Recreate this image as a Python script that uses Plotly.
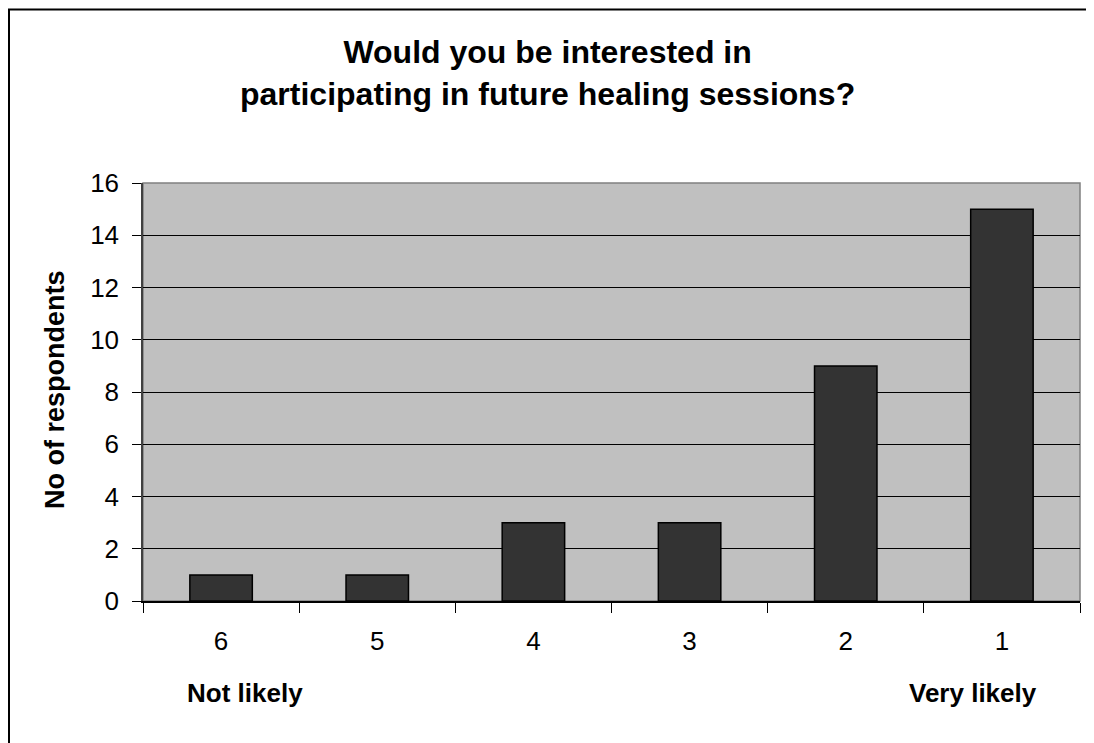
import plotly.graph_objects as go

categories = ["6", "5", "4", "3", "2", "1"]
respondents = [1, 1, 3, 3, 9, 15]
y_ticks = [0, 2, 4, 6, 8, 10, 12, 14, 16]

title_text = "Would you be interested in<br>participating in future healing sessions?"
y_title = "No of respondents"
low_label = "Not likely"
high_label = "Very likely"

FONT = "Liberation Sans, Arial, sans-serif"
OFF = 8  # page body margin
W, H = 1094 - OFF, 743 - OFF
# plot area in screen pixels: x 143..1080, y 183..601
L = 143 - OFF
T = 183 - OFF
R = W - (1080 - OFF)
B = H - (601 - OFF)
pw = W - L - R
ph = H - T - B

def px_x(sx):
    return (sx - OFF - L) / pw

def px_y(sy):
    return (H - B - (sy - OFF)) / ph

fig = go.Figure()
fig.add_trace(go.Bar(
    x=categories,
    y=respondents,
    marker=dict(color="#333333", line=dict(color="black", width=1.5)),
    width=0.4,
    hoverinfo="x+y",
))

fig.update_layout(
    width=W, height=H,
    margin=dict(l=L, r=R, t=T, b=B, autoexpand=False),
    paper_bgcolor="white",
    plot_bgcolor="#C0C0C0",
    font=dict(family=FONT, size=26, color="black"),
    showlegend=False,
    xaxis=dict(
        type="category",
        categoryorder="array", categoryarray=categories,
        showgrid=False,
        showline=True, linecolor="black", linewidth=1.5,
        ticks="outside", tickson="boundaries", ticklen=10, tickcolor="black", tickwidth=1,
        tickfont=dict(family=FONT, size=26, color="black"),
        ticklabelstandoff=16,
        zeroline=False, fixedrange=True,
    ),
    yaxis=dict(
        range=[0, 16],
        tickvals=y_ticks,
        showgrid=True, gridcolor="black", gridwidth=1,
        showline=True, linecolor="#404040", linewidth=1.5,
        ticks="outside", ticklen=9, tickcolor="black", tickwidth=1,
        tickfont=dict(family=FONT, size=26, color="black"),
        ticklabelstandoff=8,
        zeroline=False, fixedrange=True,
    ),
)

# plot-area border (top/right gray)
fig.add_shape(type="rect", xref="paper", yref="paper", x0=0, x1=1, y0=0, y1=1,
              line=dict(color="#808080", width=1.5), layer="below")
# outer chart frame
fig.add_shape(type="rect", xref="paper", yref="paper",
              x0=px_x(9), x1=px_x(1094 + 30), y0=px_y(743 + 30), y1=px_y(9.5),
              line=dict(color="black", width=2), layer="above")

# chart title (two lines, centred on the page)
fig.add_annotation(text=title_text, xref="paper", yref="paper",
                   x=px_x(547), y=px_y(32), showarrow=False,
                   xanchor="center", yanchor="top", align="center",
                   font=dict(family=FONT, size=32, color="black", weight="bold"))

fig.add_annotation(text=y_title, xref="paper", yref="paper",
                   x=px_x(55), y=px_y(390), textangle=-90, showarrow=False,
                   xanchor="center", yanchor="middle",
                   font=dict(family=FONT, size=27, color="black", weight="bold"))
fig.add_annotation(text=low_label, xref="paper", yref="paper",
                   x=px_x(245), y=px_y(693), showarrow=False,
                   xanchor="center", yanchor="middle",
                   font=dict(family=FONT, size=26, color="black", weight="bold"))
fig.add_annotation(text=high_label, xref="paper", yref="paper",
                   x=px_x(973), y=px_y(693), showarrow=False,
                   xanchor="center", yanchor="middle",
                   font=dict(family=FONT, size=26, color="black", weight="bold"))

fig.write_html("out.html")
